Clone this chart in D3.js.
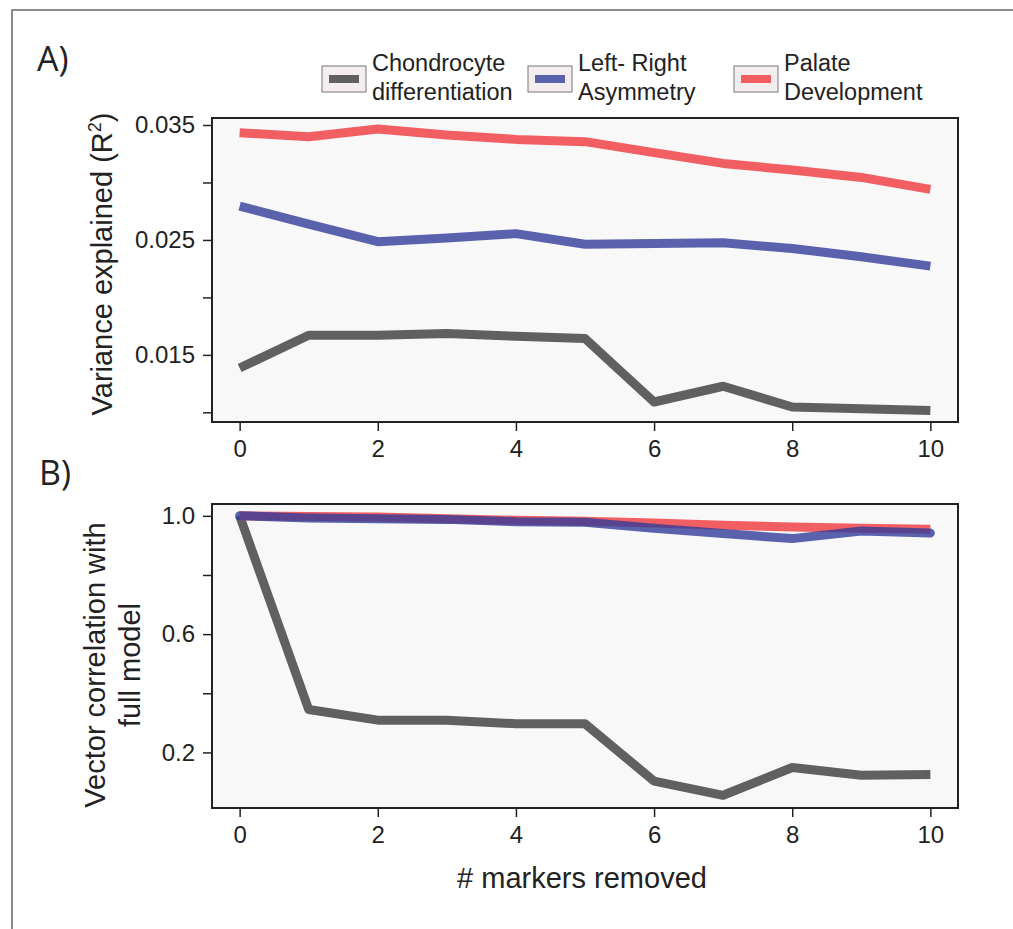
<!DOCTYPE html>
<html>
<head>
<meta charset="utf-8">
<script src="https://cdn.jsdelivr.net/npm/d3@7"></script>
<style>
  body { margin: 0; background: #fff; }
  text { font-family: "Liberation Sans", Arial, sans-serif; fill: #222; }
</style>
</head>
<body>
<script>
// markers removed 0..10
var markers = [0, 1, 2, 3, 4, 5, 6, 7, 8, 9, 10];

// A) variance explained (R2)
var chondroR2 = [0.01386, 0.01671, 0.01671, 0.01686, 0.01662, 0.01642, 0.01090, 0.01227, 0.01046, 0.01032, 0.01017];
var leftRightR2 = [0.02794, 0.02638, 0.02485, 0.02516, 0.02555, 0.02463, 0.02468, 0.02475, 0.02426, 0.02353, 0.02272];
var palateR2 = [0.03433, 0.03398, 0.03465, 0.03413, 0.03375, 0.03355, 0.03260, 0.03166, 0.03108, 0.03044, 0.02940];

// B) vector correlation with full model
var chondroCor = [1.0, 0.345, 0.309, 0.309, 0.297, 0.297, 0.103, 0.055, 0.149, 0.123, 0.125];
var leftRightCor = [1.0, 0.993, 0.990, 0.988, 0.980, 0.978, 0.958, 0.940, 0.923, 0.949, 0.942];
var palateCor = [1.0, 0.998, 0.996, 0.990, 0.985, 0.982, 0.976, 0.968, 0.962, 0.958, 0.955];

var xTicks = [0, 2, 4, 6, 8, 10];
var yTicksA = [0.010, 0.015, 0.020, 0.025, 0.030, 0.035];
var yLabelsA = [0.015, 0.025, 0.035];
var yTicksB = [0.2, 0.4, 0.6, 0.8, 1.0];
var yLabelsB = [0.2, 0.6, 1.0];

var legendNames = [["Chondrocyte", "differentiation"], ["Left- Right", "Asymmetry"], ["Palate", "Development"]];
var colors = ["#606060", "#5a62ad", "#f25f63"];

var svg = d3.select("body").append("svg")
    .attr("width", 1013)
    .attr("height", 929);

// outer frame
svg.append("path")
    .attr("d", "M12,929 L12,10 L1013,10")
    .attr("fill", "none")
    .attr("stroke", "#666")
    .attr("stroke-width", 1.5);

var x = d3.scaleLinear().domain([-0.4, 10.4]).range([212, 958]);

function panel(top, bottom, yDomain, yTicks, yLabels, fmt, series, lineW) {
    var y = d3.scaleLinear().domain(yDomain).range([bottom, top]);
    var g = svg.append("g");

    g.append("rect")
        .attr("x", 212).attr("y", top)
        .attr("width", 958 - 212).attr("height", bottom - top)
        .attr("fill", "#f8f8f8");

    var line = d3.line()
        .x(function(d, i) { return x(markers[i]); })
        .y(function(d) { return y(d); });

    series.forEach(function(s) {
        g.append("path")
            .datum(s.values)
            .attr("d", line)
            .attr("fill", "none")
            .attr("stroke", s.color)
            .attr("stroke-opacity", s.opacity || 1)
            .attr("stroke-width", lineW)
            .attr("stroke-linecap", s.cap || "butt")
            .attr("stroke-linejoin", "round");
    });

    g.append("rect")
        .attr("x", 212).attr("y", top)
        .attr("width", 958 - 212).attr("height", bottom - top)
        .attr("fill", "none")
        .attr("stroke", "#222")
        .attr("stroke-width", 2);

    // y axis ticks
    var ya = g.append("g").attr("transform", "translate(212,0)")
        .call(d3.axisLeft(y).tickValues(yTicks).tickSize(9).tickFormat(function(d) {
            return yLabels.some(function(v) { return Math.abs(v - d) < 1e-9; }) ? fmt(d) : "";
        }));
    ya.select(".domain").remove();
    ya.selectAll("line").attr("stroke", "#222").attr("stroke-width", 1.5);
    ya.selectAll("text").attr("font-size", 24).attr("font-family", "Liberation Sans, Arial, sans-serif")
        .attr("fill", "#222").attr("x", -17);

    // x axis ticks
    var xa = g.append("g").attr("transform", "translate(0," + bottom + ")")
        .call(d3.axisBottom(x).tickValues(xTicks).tickSize(9));
    xa.select(".domain").remove();
    xa.selectAll("line").attr("stroke", "#222").attr("stroke-width", 1.5);
    xa.selectAll("text").attr("font-size", 24).attr("font-family", "Liberation Sans, Arial, sans-serif")
        .attr("fill", "#222").attr("y", 18);
    return y;
}

panel(118, 422, [0.00916, 0.03561], yTicksA, yLabelsA, d3.format(".3f"), [
    { values: chondroR2, color: colors[0] },
    { values: leftRightR2, color: colors[1] },
    { values: palateR2, color: colors[2] }
], 9);

panel(504, 808, [0.012, 1.04], yTicksB, yLabelsB, d3.format(".1f"), [
    { values: chondroCor, color: colors[0] },
    { values: palateCor, color: colors[2] },
    { values: leftRightCor, color: "#323c9a", opacity: 0.8, cap: "round" }
], 9);

// panel letters
svg.append("text").attr("x", 37).attr("y", 71)
    .style("font-family", "Open Sans, sans-serif").attr("font-size", 34).text("A)");
svg.append("text").attr("x", 39).attr("y", 485)
    .style("font-family", "Open Sans, sans-serif").attr("font-size", 34).text("B)");

// axis titles
var ta = svg.append("text")
    .attr("transform", "translate(112,264) rotate(-90)")
    .attr("text-anchor", "middle")
    .attr("font-size", 29);
ta.append("tspan").text("Variance explained (R");
ta.append("tspan").attr("font-size", 18).attr("dy", -11).text("2");
ta.append("tspan").attr("dy", 11).text(")");

var tb = svg.append("text")
    .attr("transform", "translate(105,665) rotate(-90)")
    .attr("text-anchor", "middle")
    .attr("font-size", 29);
tb.append("tspan").attr("x", 0).attr("dy", 0).text("Vector correlation with");
tb.append("tspan").attr("x", 0).attr("dy", 35).text("full model");

svg.append("text")
    .attr("x", 582).attr("y", 888)
    .attr("text-anchor", "middle")
    .attr("font-size", 29)
    .text("# markers removed");

// legend
var lg = svg.selectAll("g.leg").data(legendNames).enter().append("g")
    .attr("class", "leg")
    .attr("transform", function(d, i) { return "translate(" + (322 + i * 206) + ",0)"; });
lg.append("rect").attr("x", 0).attr("y", 66).attr("width", 44).attr("height", 26)
    .attr("fill", "#f3eded").attr("stroke", "#777").attr("stroke-width", 1);
lg.append("rect").attr("x", 7).attr("y", 75).attr("width", 30).attr("height", 8)
    .attr("fill", function(d, i) { return colors[i]; });
lg.append("text").attr("x", 50).attr("y", 71).attr("font-size", 23.5)
    .text(function(d) { return d[0]; });
lg.append("text").attr("x", 50).attr("y", 100).attr("font-size", 23.5)
    .text(function(d) { return d[1]; });
</script>
</body>
</html>
